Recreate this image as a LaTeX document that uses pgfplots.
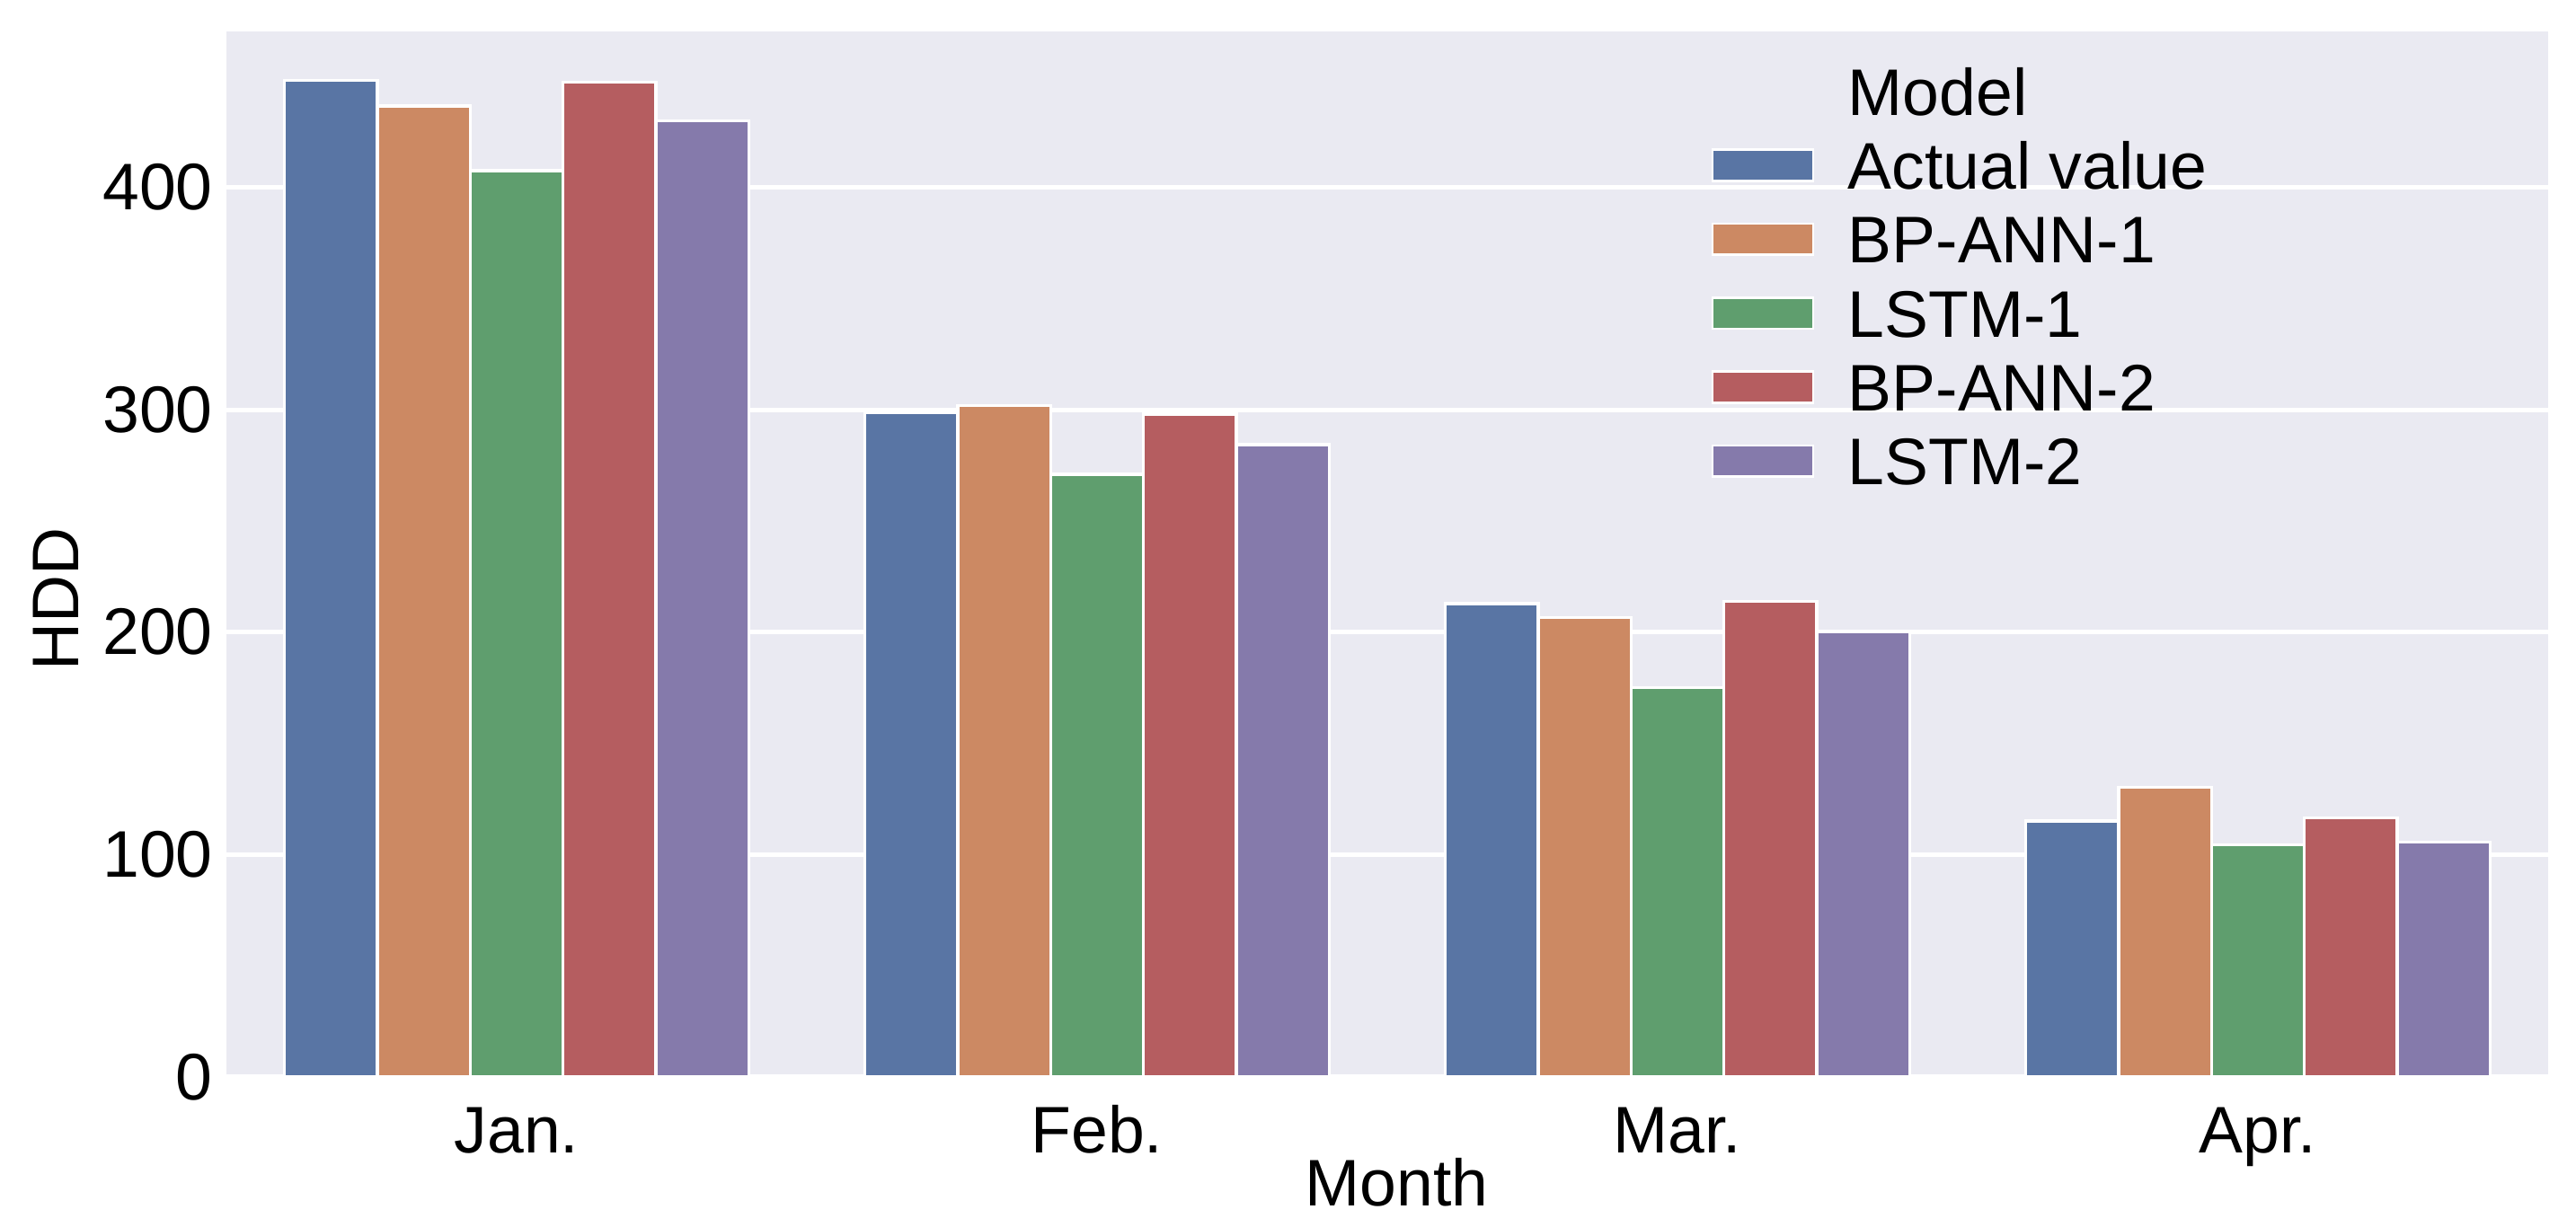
\documentclass[border=0pt]{standalone}
\usepackage{fontspec}
\setmainfont{Liberation Sans}
\usepackage{pgfplots}
\pgfplotsset{compat=1.18}
\definecolor{bg}{HTML}{EAEAF2}
\definecolor{c1}{HTML}{5975A4}
\definecolor{c2}{HTML}{CC8963}
\definecolor{c3}{HTML}{5F9E6E}
\definecolor{c4}{HTML}{B55D60}
\definecolor{c5}{HTML}{857AAB}
\begin{document}
\begin{tikzpicture}
\begin{axis}[
  at={(0pt,0pt)}, anchor=south west,
  scale only axis, width=387.6pt, height=174.6pt,
  xmin=-0.5, xmax=3.5, ymin=0, ymax=470,
  ybar, bar width=0.16,
  xtick={0,1,2,3}, xticklabels={Jan.,Feb.,Mar.,Apr.},
  ytick={0,100,200,300,400},
  ymajorgrids, grid style={white, line width=0.75pt},
  axis background/.style={fill=bg},
  axis line style={draw=none},
  major tick length=0pt,
  tick label style={font=\fontsize{11}{13}\selectfont},
  /pgf/number format/assume math mode=true,
  yticklabel style={anchor=east, inner sep=0pt, xshift=-2.1pt},
  xticklabel style={anchor=north, inner sep=0pt, text height=7.9pt, text depth=0pt, yshift=-4.65pt},
  label style={font=\fontsize{11}{13}\selectfont},
  xlabel={Month},
  xlabel style={at={(axis description cs:0.504,0)}, anchor=north, inner sep=0pt, yshift=-13.35pt},
  ylabel={HDD},
  ylabel style={at={(axis description cs:-0.0735,0.457)}, anchor=center, inner sep=0pt},
  legend style={at={(0.6396,0.9653)}, anchor=north west, draw=none, fill=none,
    inner sep=0pt, outer sep=0pt, row sep=4.45pt, column sep=5.6pt,
    font=\fontsize{11}{13}\selectfont,
    nodes={inner sep=0pt, text height=7.9pt, text depth=0pt}},
  legend cell align=left,
  legend image code/.code={\filldraw[#1, draw=white, line width=0.4pt] (0pt,-2.6pt) rectangle (16.8pt,2.6pt);},
]
\addlegendimage{empty legend}
\addlegendentry{Model}
\addplot[fill=c1, draw=white, line width=0.5pt, bar shift=-0.32] coordinates {(0,448) (1,298.6) (2,212.8) (3,115.1)};
\addlegendentry{Actual value}
\addplot[fill=c2, draw=white, line width=0.5pt, bar shift=-0.16] coordinates {(0,436.5) (1,301.8) (2,206.5) (3,130.1)};
\addlegendentry{BP-ANN-1}
\addplot[fill=c3, draw=white, line width=0.5pt, bar shift=0] coordinates {(0,407.4) (1,270.9) (2,175) (3,104.3)};
\addlegendentry{LSTM-1}
\addplot[fill=c4, draw=white, line width=0.5pt, bar shift=0.16] coordinates {(0,447.3) (1,298) (2,213.7) (3,116.4)};
\addlegendentry{BP-ANN-2}
\addplot[fill=c5, draw=white, line width=0.5pt, bar shift=0.32] coordinates {(0,429.7) (1,284.2) (2,200.3) (3,105.6)};
\addlegendentry{LSTM-2}
\end{axis}
\pgfresetboundingbox
\path[use as bounding box] (-37.8pt,-25.05pt) rectangle (392.25pt,179.85pt);
\end{tikzpicture}
\end{document}
